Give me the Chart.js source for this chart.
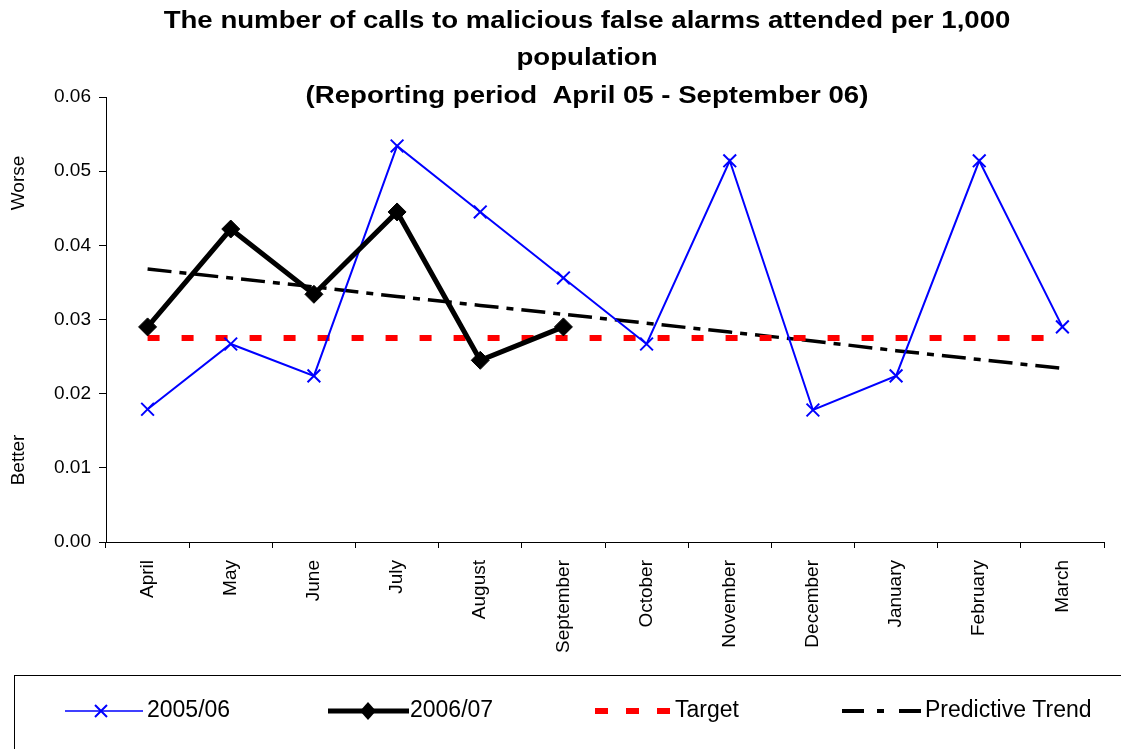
<!DOCTYPE html>
<html>
<head>
<meta charset="utf-8">
<script src="https://cdn.jsdelivr.net/npm/chart.js@4/dist/chart.umd.min.js"></script>
<style>
  html, body { margin: 0; padding: 0; background: #fff; }
  #wrap { position: relative; width: 1121px; height: 749px; }
</style>
</head>
<body>
<div id="wrap"><canvas id="c" width="1121" height="749"></canvas></div>
<script>
const categories = ['April', 'May', 'June', 'July', 'August', 'September', 'October', 'November', 'December', 'January', 'February', 'March'];
const series2005 = [0.0179, 0.0267, 0.0224, 0.0534, 0.0445, 0.0356, 0.0267, 0.0514, 0.0178, 0.0224, 0.0514, 0.0290];
const series2006 = [0.0290, 0.0422, 0.0334, 0.0445, 0.0245, 0.0290, null, null, null, null, null, null];
const targetValues = [0.0275, 0.0275, 0.0275, 0.0275, 0.0275, 0.0275, 0.0275, 0.0275, 0.0275, 0.0275, 0.0275, 0.0275];
const trendValues = [0.0368, 0.0356, 0.0344, 0.0331, 0.0319, 0.0307, 0.0295, 0.0283, 0.0271, 0.0258, 0.0246, 0.0234];
const yTicks = [0, 0.01, 0.02, 0.03, 0.04, 0.05, 0.06];
const titleLines = ['The number of calls to malicious false alarms attended per 1,000', 'population', '(Reporting period  April 05 - September 06)'];
const seriesNames = ['2005/06', '2006/07', 'Target', 'Predictive Trend'];

const FONT = '"Liberation Sans", Arial, sans-serif';

const decor = {
  id: 'decor',
  afterDraw(chart) {
    const ctx = chart.ctx;
    ctx.save();
    // Title (horizontally widened like the original rendering)
    ctx.fillStyle = '#000';
    ctx.font = 'bold 23px ' + FONT;
    ctx.textAlign = 'center';
    ctx.textBaseline = 'middle';
    const ty = [22, 59, 97];
    titleLines.forEach((t, i) => {
      ctx.save();
      ctx.translate(587, ty[i]);
      ctx.scale(1.2, 1);
      ctx.fillText(t, 0, 0);
      ctx.restore();
    });
    // Worse / Better
    ctx.font = '19px ' + FONT;
    [['Worse', 183], ['Better', 460]].forEach(([t, y]) => {
      ctx.save();
      ctx.translate(19, y);
      ctx.rotate(-Math.PI / 2);
      ctx.fillText(t, 0, 0);
      ctx.restore();
    });
    // Legend box
    ctx.strokeStyle = '#000';
    ctx.lineWidth = 1;
    ctx.strokeRect(14.5, 675.5, 1200, 200);
    const ly = 711;
    ctx.textAlign = 'left';
    ctx.font = '23px ' + FONT;
    // 2005/06
    ctx.strokeStyle = '#0000ff';
    ctx.lineWidth = 1.5;
    ctx.beginPath(); ctx.moveTo(65, ly); ctx.lineTo(143, ly); ctx.stroke();
    ctx.lineWidth = 2;
    ctx.beginPath();
    ctx.moveTo(95, ly - 6); ctx.lineTo(107, ly + 6);
    ctx.moveTo(107, ly - 6); ctx.lineTo(95, ly + 6);
    ctx.stroke();
    ctx.fillStyle = '#000';
    ctx.fillText(seriesNames[0], 147, ly);
    // 2006/07
    ctx.strokeStyle = '#000';
    ctx.lineWidth = 5;
    ctx.beginPath(); ctx.moveTo(328, ly); ctx.lineTo(409, ly); ctx.stroke();
    ctx.beginPath();
    ctx.moveTo(368, ly - 9); ctx.lineTo(376, ly); ctx.lineTo(368, ly + 9); ctx.lineTo(360, ly); ctx.closePath();
    ctx.fill();
    ctx.fillText(seriesNames[1], 410, ly);
    // Target
    ctx.fillStyle = '#ff0000';
    [595, 626, 657].forEach(x => ctx.fillRect(x, ly - 3, 13, 6));
    ctx.fillStyle = '#000';
    ctx.fillText(seriesNames[2], 675, ly);
    // Trend
    ctx.fillRect(842, ly - 2, 22, 4);
    ctx.fillRect(877, ly - 2, 7, 4);
    ctx.fillRect(899, ly - 2, 22, 4);
    ctx.fillText(seriesNames[3], 925, ly);
    ctx.restore();
  }
};

new Chart(document.getElementById('c'), {
  type: 'line',
  data: {
    labels: categories,
    datasets: [
      {
        label: seriesNames[3], data: trendValues, borderColor: '#000', borderWidth: 3.5,
        borderDash: [24, 8, 7, 8], pointRadius: 0, fill: false, tension: 0, order: 4
      },
      {
        label: seriesNames[2], data: targetValues, borderColor: '#ff0000', borderWidth: 6,
        borderDash: [12, 22], borderCapStyle: 'butt', pointRadius: 0, fill: false, tension: 0, order: 3
      },
      {
        label: seriesNames[0], data: series2005, borderColor: '#0000ff', borderWidth: 2,
        pointStyle: 'crossRot', pointRadius: 9, pointBorderWidth: 2, pointBorderColor: '#0000ff',
        pointBackgroundColor: '#0000ff', fill: false, tension: 0, order: 2
      },
      {
        label: seriesNames[1], data: series2006, borderColor: '#000', borderWidth: 5,
        pointStyle: 'rectRot', pointRadius: 9, pointBorderWidth: 1, pointBorderColor: '#000',
        pointBackgroundColor: '#000', fill: false, tension: 0, spanGaps: false, order: 1
      }
    ]
  },
  options: {
    responsive: false,
    animation: false,
    devicePixelRatio: 1,
    layout: { padding: { top: 97, right: 17, bottom: 74, left: 0 } },
    plugins: {
      legend: { display: false },
      title: { display: false },
      tooltip: { enabled: false }
    },
    scales: {
      x: {
        offset: true,
        grid: { offset: true, drawOnChartArea: false, drawTicks: true, tickLength: 6, color: '#000' },
        border: { color: '#000', width: 1 },
        ticks: { color: '#000', font: { family: FONT, size: 19 }, minRotation: 90, maxRotation: 90, padding: 12, autoSkip: false },
        afterFit(scale) { scale.height = 133; }
      },
      y: {
        min: 0, max: 0.06,
        afterBuildTicks(scale) { scale.ticks = yTicks.map(v => ({ value: v })); },
        grid: { drawOnChartArea: false, drawTicks: true, tickLength: 7, color: '#000' },
        border: { color: '#000', width: 1 },
        ticks: { color: '#000', font: { family: FONT, size: 19 }, padding: 8, callback: v => v.toFixed(2) },
        afterFit(scale) { scale.width = 106; }
      }
    }
  },
  plugins: [decor]
});
</script>
</body>
</html>
